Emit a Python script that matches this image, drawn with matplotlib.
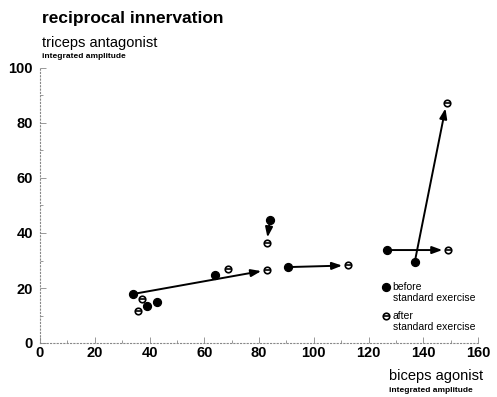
#!/usr/bin/env python3
"""Reciprocal innervation: triceps vs biceps amplitude before/after exercise."""

import matplotlib
matplotlib.use("Agg")
import matplotlib.pyplot as plt

plt.rcParams["font.family"] = ["Liberation Sans", "DejaVu Sans"]

# before standard exercise (filled)
before_x = [33.9, 39.0, 42.7, 63.9, 84.0, 90.5, 126.6, 136.9]
before_y = [17.8, 13.5, 15.0, 24.7, 44.7, 27.6, 33.8, 29.5]

# after standard exercise (open)
after_x = [37.2, 35.8, 68.6, 82.8, 82.8, 112.4, 149.0, 148.5]
after_y = [16.0, 11.6, 26.9, 36.4, 26.5, 28.2, 33.8, 87.3]

# arrows: (start point, end point)
arrows = [
    ((33.9, 17.8), (82.8, 26.5)),
    ((84.0, 44.7), (82.8, 36.4)),
    ((90.5, 27.6), (112.4, 28.2)),
    ((126.6, 33.8), (149.0, 33.8)),
    ((136.9, 29.5), (148.5, 87.3)),
]

x_ticks = [0, 20, 40, 60, 80, 100, 120, 140, 160]
y_ticks = [0, 20, 40, 60, 80, 100]

fig = plt.figure(figsize=(4.97, 3.97), dpi=100)
ax = fig.add_axes([40 / 497, 54 / 397, 438 / 497, 275 / 397])
ax.set_xlim(0, 160)
ax.set_ylim(0, 100)

for (x0, y0), (x1, y1) in arrows:
    ax.annotate("", xy=(x1, y1), xytext=(x0, y0),
                arrowprops=dict(arrowstyle="-|>,head_length=0.6,head_width=0.22",
                                color="black", lw=1.4, shrinkA=3, shrinkB=4))

ax.scatter(before_x, before_y, s=32, color="black", zorder=3, clip_on=False)
ax.scatter(after_x, after_y, s=22, facecolor="white", edgecolor="black",
           linewidth=1.2, zorder=3, clip_on=False)
ax.scatter(after_x, after_y, s=22, marker="_", color="black", linewidth=1.2,
           zorder=4, clip_on=False)

for side in ["top", "right"]:
    ax.spines[side].set_visible(False)
for side in ["left", "bottom"]:
    ax.spines[side].set_linestyle((0, (1, 2)))
    ax.spines[side].set_color("#888888")
    ax.spines[side].set_linewidth(0.8)

ax.set_xticks(x_ticks)
ax.set_yticks(y_ticks)
ax.set_xticks(range(10, 160, 10), minor=True)
ax.set_yticks(range(10, 100, 10), minor=True)
ax.tick_params(which="both", direction="in", color="#888888", width=0.6)
ax.tick_params(which="major", length=4)
ax.tick_params(which="minor", length=2)
ax.tick_params(axis="x", pad=2, labelsize=10.5)
ax.tick_params(axis="y", pad=5, labelsize=10.5)
for lbl in ax.get_xticklabels() + ax.get_yticklabels():
    lbl.set_fontweight("bold")

fig.text(42 / 497, 1 - 18 / 397, "reciprocal innervation", fontsize=12.5,
         fontweight="bold", va="center", ha="left")
fig.text(42 / 497, 1 - 43 / 397, "triceps antagonist", fontsize=10.5,
         va="center", ha="left")
fig.text(42 / 497, 1 - 57 / 397, "integrated amplitude", fontsize=6,
         fontweight="bold", va="center", ha="left")

fig.text(389 / 497, 1 - 376 / 397, "biceps agonist", fontsize=10.5,
         va="center", ha="left")
fig.text(389 / 497, 1 - 390 / 397, "integrated amplitude", fontsize=6,
         fontweight="bold", va="center", ha="left")

# legend
ax.scatter([126.5], [20.5], s=32, color="black", clip_on=False)
ax.text(128.8, 20.5, "before", fontsize=7.5, va="center", ha="left")
ax.text(128.8, 16.5, "standard exercise", fontsize=7.5, va="center", ha="left")
ax.scatter([126.5], [9.8], s=22, facecolor="white", edgecolor="black",
           linewidth=1.2, clip_on=False)
ax.scatter([126.5], [9.8], s=22, marker="_", color="black", linewidth=1.2)
ax.text(128.8, 9.8, "after", fontsize=7.5, va="center", ha="left")
ax.text(128.8, 6.0, "standard exercise", fontsize=7.5, va="center", ha="left")

fig.savefig("out.png", dpi=100)
